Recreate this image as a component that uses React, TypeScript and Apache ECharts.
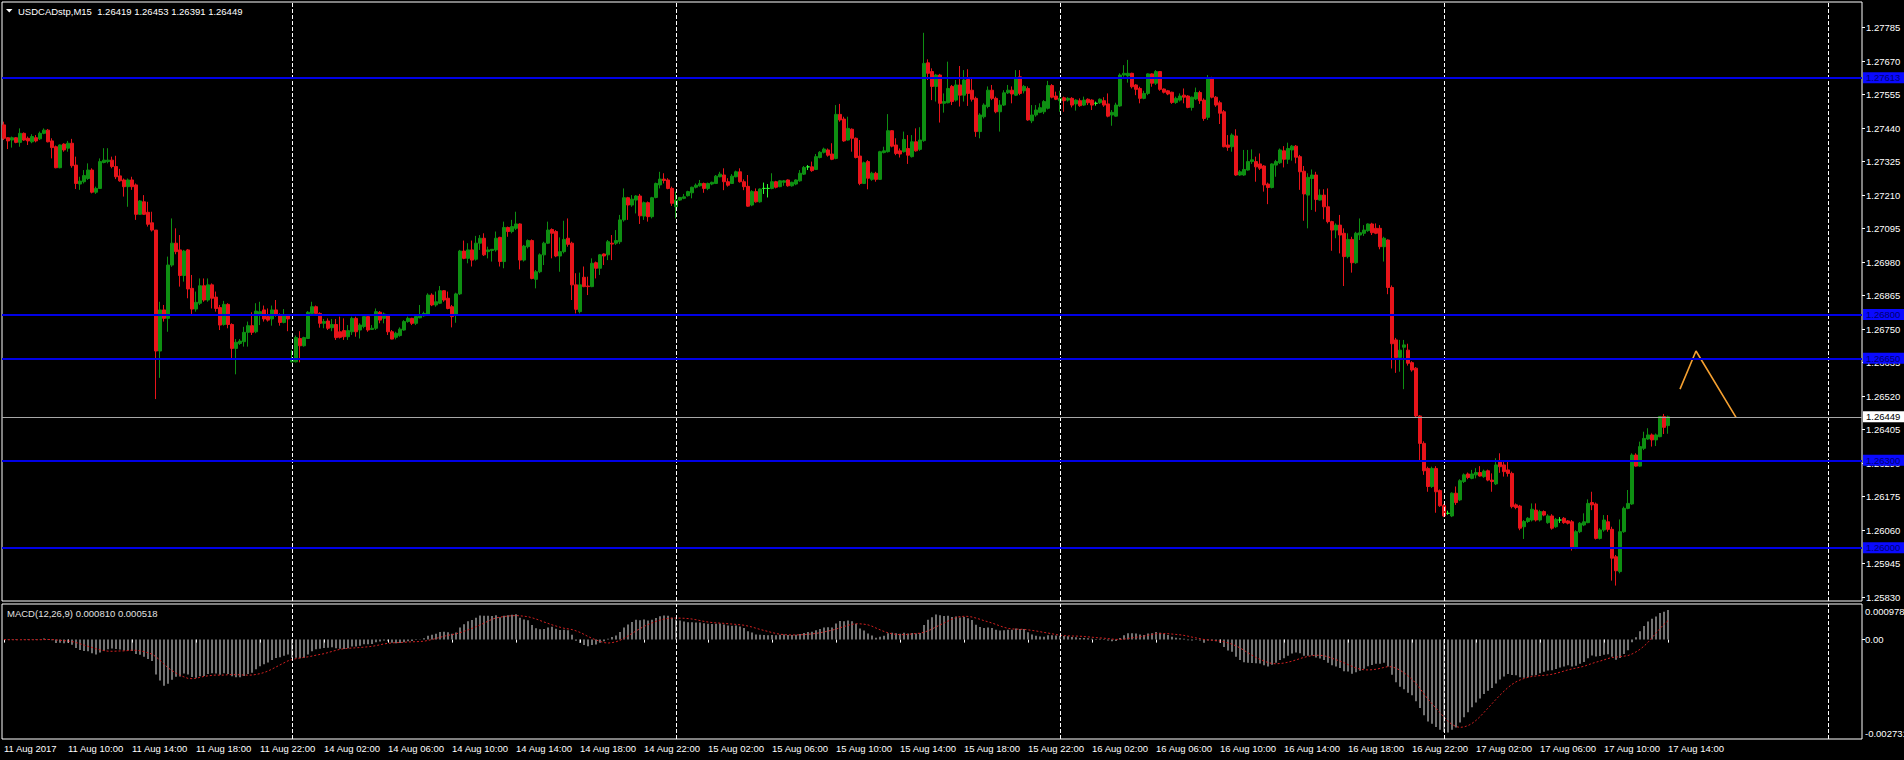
import React, { useEffect, useRef } from 'react';
import * as echarts from 'echarts';

const FONT = '"Liberation Sans", Arial, sans-serif';
const SYMBOL_TITLE = 'USDCADstp,M15  1.26419 1.26453 1.26391 1.26449';
const MACD_TITLE = 'MACD(12,26,9) 0.000810 0.000518';

// trading sessions shown on the time axis (M15 bars)
const sessionDays = ['11 Aug', '14 Aug', '15 Aug', '16 Aug', '17 Aug', '18 Aug'];
const sessionStartHour = [6, 0, 0, 0, 0, 0];
const sessionBars = [72, 96, 96, 96, 96, 9];
const firstLabel = '11 Aug 2017';

// [open, high, low, close]
const ohlc: number[][] = [
  /*0*/ [1.27451,1.27462,1.27399,1.27405],[1.27407,1.27409,1.27368,1.27396],[1.27399,1.27411,1.27373,1.27407],[1.27407,1.27409,1.27388,1.27391],[1.27391,1.27439,1.27376,1.27422],[1.27422,1.27425,1.27396,1.27399],[1.27405,1.27411,1.27382,1.27396],[1.27393,1.27419,1.27388,1.27411],
  /*8*/ [1.27407,1.27416,1.27391,1.27396],[1.27403,1.27428,1.27399,1.27422],[1.27422,1.27439,1.27419,1.27433],[1.27433,1.27437,1.27391,1.27393],[1.27396,1.27405,1.27336,1.27373],[1.27376,1.27380,1.27302,1.27304],[1.27304,1.27384,1.27302,1.27382],[1.27385,1.27388,1.27359,1.27365],
  /*16*/ [1.27371,1.27396,1.27359,1.27388],[1.27388,1.27403,1.27304,1.27311],[1.27313,1.27342,1.27231,1.27250],[1.27248,1.27273,1.27228,1.27258],[1.27256,1.27296,1.27250,1.27277],[1.27267,1.27319,1.27262,1.27296],[1.27296,1.27302,1.27216,1.27220],[1.27220,1.27239,1.27214,1.27233],
  /*24*/ [1.27233,1.27336,1.27231,1.27325],[1.27322,1.27371,1.27319,1.27330],[1.27325,1.27371,1.27319,1.27330],[1.27330,1.27342,1.27302,1.27308],[1.27308,1.27345,1.27265,1.27273],[1.27276,1.27300,1.27256,1.27259],[1.27262,1.27267,1.27205,1.27239],[1.27239,1.27267,1.27170,1.27262],
  /*32*/ [1.27262,1.27273,1.27228,1.27239],[1.27245,1.27250,1.27125,1.27144],[1.27144,1.27193,1.27142,1.27190],[1.27187,1.27210,1.27142,1.27144],[1.27151,1.27187,1.27102,1.27110],[1.27115,1.27153,1.27085,1.27090],[1.27090,1.27090,1.26510,1.26675],[1.26675,1.26844,1.26583,1.26816],
  /*40*/ [1.26816,1.26833,1.26776,1.26787],[1.26787,1.26999,1.26741,1.26970],[1.26970,1.27130,1.26964,1.27045],[1.27045,1.27096,1.27007,1.27016],[1.27022,1.27073,1.26896,1.26934],[1.26934,1.27022,1.26913,1.27018],[1.27022,1.27025,1.26856,1.26888],[1.26890,1.26936,1.26802,1.26819],
  /*48*/ [1.26819,1.26879,1.26810,1.26842],[1.26839,1.26924,1.26833,1.26899],[1.26899,1.26924,1.26844,1.26850],[1.26850,1.26924,1.26844,1.26902],[1.26902,1.26907,1.26821,1.26856],[1.26860,1.26879,1.26810,1.26821],[1.26824,1.26833,1.26747,1.26764],[1.26766,1.26847,1.26762,1.26835],
  /*56*/ [1.26835,1.26839,1.26753,1.26766],[1.26766,1.26770,1.26650,1.26684],[1.26684,1.26716,1.26595,1.26705],[1.26701,1.26716,1.26696,1.26709],[1.26707,1.26758,1.26690,1.26739],[1.26739,1.26776,1.26690,1.26762],[1.26762,1.26808,1.26730,1.26739],[1.26741,1.26839,1.26736,1.26812],
  /*64*/ [1.26802,1.26844,1.26764,1.26810],[1.26816,1.26831,1.26776,1.26785],[1.26793,1.26821,1.26776,1.26781],[1.26785,1.26831,1.26762,1.26816],[1.26816,1.26850,1.26793,1.26799],[1.26799,1.26804,1.26762,1.26773],[1.26773,1.26819,1.26770,1.26799],[1.26799,1.26801,1.26743,1.26785],
  /*72*/ [1.26638,1.26678,1.26636,1.26644],[1.26638,1.26728,1.26636,1.26721],[1.26718,1.26743,1.26636,1.26693],[1.26693,1.26724,1.26690,1.26721],[1.26718,1.26812,1.26716,1.26808],[1.26804,1.26844,1.26801,1.26827],[1.26827,1.26831,1.26799,1.26804],[1.26804,1.26808,1.26755,1.26770],
  /*80*/ [1.26770,1.26785,1.26753,1.26776],[1.26778,1.26787,1.26747,1.26753],[1.26755,1.26785,1.26743,1.26766],[1.26766,1.26785,1.26713,1.26721],[1.26741,1.26793,1.26718,1.26722],[1.26745,1.26787,1.26713,1.26724],[1.26724,1.26764,1.26713,1.26745],[1.26741,1.26793,1.26730,1.26787],
  /*88*/ [1.26787,1.26793,1.26724,1.26741],[1.26747,1.26770,1.26718,1.26764],[1.26759,1.26799,1.26753,1.26793],[1.26793,1.26799,1.26741,1.26747],[1.26749,1.26764,1.26747,1.26753],[1.26753,1.26821,1.26747,1.26810],[1.26808,1.26812,1.26770,1.26781],[1.26787,1.26807,1.26770,1.26802],
  /*96*/ [1.26796,1.26799,1.26730,1.26741],[1.26741,1.26747,1.26715,1.26716],[1.26722,1.26741,1.26715,1.26736],[1.26728,1.26756,1.26724,1.26750],[1.26747,1.26781,1.26745,1.26776],[1.26776,1.26793,1.26772,1.26787],[1.26787,1.26789,1.26764,1.26770],[1.26770,1.26796,1.26764,1.26793],
  /*104*/ [1.26789,1.26833,1.26787,1.26796],[1.26796,1.26810,1.26793,1.26804],[1.26802,1.26873,1.26799,1.26867],[1.26867,1.26873,1.26829,1.26833],[1.26833,1.26879,1.26827,1.26844],[1.26839,1.26898,1.26836,1.26882],[1.26882,1.26884,1.26844,1.26850],[1.26856,1.26879,1.26818,1.26821],
  /*112*/ [1.26827,1.26833,1.26756,1.26793],[1.26799,1.26875,1.26772,1.26871],[1.26871,1.27022,1.26867,1.27018],[1.27018,1.27054,1.26990,1.26993],[1.26993,1.27045,1.26976,1.27022],[1.27022,1.27054,1.26965,1.26987],[1.26990,1.27070,1.26985,1.27045],[1.27045,1.27073,1.27022,1.27062],
  /*120*/ [1.27062,1.27079,1.27001,1.27005],[1.27016,1.27033,1.26993,1.27022],[1.27020,1.27024,1.26982,1.27024],[1.27022,1.27085,1.27016,1.27062],[1.27065,1.27067,1.26965,1.26982],[1.26982,1.27119,1.26959,1.27099],[1.27099,1.27102,1.27067,1.27085],[1.27085,1.27125,1.27079,1.27102],
  /*128*/ [1.27096,1.27153,1.27090,1.27111],[1.27111,1.27113,1.26955,1.26987],[1.26987,1.27039,1.26982,1.27035],[1.27033,1.27058,1.27027,1.27054],[1.27054,1.27058,1.26921,1.26924],[1.26921,1.26953,1.26890,1.26947],[1.26947,1.27010,1.26942,1.27005],[1.27005,1.27050,1.26970,1.27045],
  /*136*/ [1.27045,1.27119,1.27042,1.27090],[1.27092,1.27096,1.26993,1.27079],[1.27085,1.27090,1.26997,1.27001],[1.27001,1.27065,1.26947,1.27016],[1.27016,1.27122,1.27010,1.27058],[1.27062,1.27130,1.27033,1.27041],[1.27045,1.27050,1.26850,1.26902],[1.26902,1.26942,1.26804,1.26818],
  /*144*/ [1.26810,1.26944,1.26804,1.26902],[1.26928,1.26965,1.26894,1.26896],[1.26898,1.26930,1.26867,1.26896],[1.26896,1.26993,1.26894,1.26976],[1.26978,1.26982,1.26924,1.26959],[1.26959,1.27008,1.26936,1.27005],[1.27008,1.27010,1.26970,1.27001],[1.27005,1.27056,1.26987,1.27050],
  /*152*/ [1.27045,1.27073,1.26987,1.27042],[1.27045,1.27090,1.27039,1.27054],[1.27050,1.27142,1.27042,1.27125],[1.27125,1.27233,1.27119,1.27201],[1.27201,1.27204,1.27125,1.27176],[1.27176,1.27210,1.27170,1.27196],[1.27193,1.27210,1.27147,1.27207],[1.27207,1.27214,1.27111,1.27139],
  /*160*/ [1.27138,1.27188,1.27125,1.27184],[1.27184,1.27188,1.27119,1.27136],[1.27136,1.27204,1.27130,1.27201],[1.27202,1.27253,1.27199,1.27250],[1.27245,1.27290,1.27233,1.27265],[1.27265,1.27285,1.27250,1.27260],[1.27262,1.27268,1.27230,1.27233],[1.27233,1.27239,1.27173,1.27182],
  /*168*/ [1.27170,1.27222,1.27130,1.27193],[1.27193,1.27204,1.27190,1.27202],[1.27199,1.27214,1.27196,1.27204],[1.27208,1.27225,1.27205,1.27222],[1.27218,1.27239,1.27199,1.27237],[1.27237,1.27250,1.27233,1.27244],[1.27242,1.27262,1.27239,1.27250],[1.27250,1.27253,1.27218,1.27233],
  /*176*/ [1.27233,1.27253,1.27227,1.27250],[1.27248,1.27256,1.27244,1.27254],[1.27250,1.27279,1.27248,1.27275],[1.27273,1.27290,1.27271,1.27282],[1.27279,1.27302,1.27227,1.27256],[1.27256,1.27268,1.27239,1.27244],[1.27250,1.27282,1.27248,1.27275],[1.27273,1.27294,1.27271,1.27290],
  /*184*/ [1.27290,1.27302,1.27253,1.27256],[1.27256,1.27264,1.27227,1.27239],[1.27240,1.27279,1.27170,1.27172],[1.27176,1.27227,1.27172,1.27222],[1.27222,1.27233,1.27184,1.27187],[1.27187,1.27233,1.27184,1.27231],[1.27233,1.27253,1.27214,1.27233],[1.27233,1.27248,1.27202,1.27233],
  /*192*/ [1.27233,1.27285,1.27230,1.27256],[1.27256,1.27259,1.27233,1.27237],[1.27239,1.27262,1.27237,1.27259],[1.27254,1.27262,1.27242,1.27259],[1.27262,1.27264,1.27239,1.27242],[1.27242,1.27256,1.27239,1.27254],[1.27248,1.27264,1.27244,1.27262],[1.27259,1.27296,1.27256,1.27285],
  /*200*/ [1.27282,1.27310,1.27279,1.27305],[1.27307,1.27313,1.27296,1.27307],[1.27307,1.27325,1.27290,1.27294],[1.27298,1.27351,1.27296,1.27342],[1.27339,1.27361,1.27336,1.27357],[1.27357,1.27373,1.27353,1.27368],[1.27365,1.27370,1.27342,1.27347],[1.27351,1.27388,1.27330,1.27333],
  /*208*/ [1.27336,1.27519,1.27333,1.27487],[1.27487,1.27523,1.27462,1.27468],[1.27471,1.27479,1.27393,1.27396],[1.27399,1.27479,1.27397,1.27439],[1.27436,1.27439,1.27359,1.27405],[1.27405,1.27408,1.27336,1.27339],[1.27344,1.27399,1.27244,1.27250],[1.27250,1.27325,1.27248,1.27321],
  /*216*/ [1.27325,1.27330,1.27230,1.27268],[1.27264,1.27290,1.27259,1.27285],[1.27285,1.27290,1.27256,1.27264],[1.27264,1.27362,1.27262,1.27359],[1.27356,1.27376,1.27353,1.27362],[1.27359,1.27488,1.27356,1.27431],[1.27431,1.27433,1.27374,1.27378],[1.27382,1.27405,1.27347,1.27353],
  /*224*/ [1.27362,1.27370,1.27339,1.27351],[1.27359,1.27428,1.27356,1.27401],[1.27370,1.27416,1.27317,1.27347],[1.27342,1.27416,1.27339,1.27393],[1.27393,1.27439,1.27359,1.27362],[1.27367,1.27443,1.27362,1.27399],[1.27397,1.27767,1.27393,1.27662],[1.27664,1.27676,1.27605,1.27628],
  /*232*/ [1.27634,1.27645,1.27536,1.27583],[1.27583,1.27626,1.27531,1.27622],[1.27622,1.27626,1.27459,1.27525],[1.27525,1.27559,1.27493,1.27531],[1.27527,1.27668,1.27525,1.27576],[1.27583,1.27588,1.27519,1.27531],[1.27536,1.27605,1.27531,1.27588],[1.27588,1.27653,1.27514,1.27553],
  /*240*/ [1.27553,1.27639,1.27531,1.27605],[1.27607,1.27642,1.27516,1.27559],[1.27570,1.27611,1.27531,1.27539],[1.27542,1.27548,1.27410,1.27428],[1.27428,1.27491,1.27405,1.27485],[1.27479,1.27525,1.27473,1.27519],[1.27514,1.27583,1.27508,1.27570],[1.27570,1.27588,1.27536,1.27542],
  /*248*/ [1.27542,1.27548,1.27491,1.27496],[1.27496,1.27536,1.27428,1.27519],[1.27519,1.27570,1.27516,1.27561],[1.27561,1.27588,1.27557,1.27570],[1.27570,1.27583,1.27525,1.27557],[1.27553,1.27639,1.27550,1.27611],[1.27616,1.27639,1.27553,1.27559],[1.27568,1.27588,1.27559,1.27583],
  /*256*/ [1.27576,1.27583,1.27465,1.27468],[1.27465,1.27519,1.27457,1.27485],[1.27485,1.27519,1.27479,1.27502],[1.27494,1.27525,1.27491,1.27510],[1.27496,1.27536,1.27488,1.27531],[1.27508,1.27602,1.27504,1.27586],[1.27586,1.27591,1.27542,1.27546],[1.27550,1.27565,1.27536,1.27539],
  /*264*/ [1.27534,1.27568,1.27496,1.27542],[1.27544,1.27548,1.27496,1.27534],[1.27536,1.27546,1.27531,1.27542],[1.27542,1.27546,1.27511,1.27519],[1.27523,1.27539,1.27500,1.27536],[1.27534,1.27542,1.27513,1.27517],[1.27519,1.27548,1.27516,1.27536],[1.27539,1.27542,1.27519,1.27527],
  /*272*/ [1.27536,1.27539,1.27502,1.27519],[1.27525,1.27531,1.27517,1.27525],[1.27527,1.27542,1.27523,1.27539],[1.27534,1.27546,1.27513,1.27519],[1.27523,1.27559,1.27477,1.27481],[1.27485,1.27502,1.27448,1.27494],[1.27481,1.27527,1.27479,1.27519],[1.27516,1.27628,1.27513,1.27622],
  /*280*/ [1.27622,1.27656,1.27616,1.27628],[1.27619,1.27674,1.27596,1.27628],[1.27628,1.27630,1.27576,1.27582],[1.27588,1.27591,1.27553,1.27573],[1.27576,1.27582,1.27525,1.27542],[1.27542,1.27568,1.27539,1.27559],[1.27559,1.27628,1.27553,1.27626],[1.27626,1.27628,1.27582,1.27594],
  /*288*/ [1.27594,1.27639,1.27588,1.27634],[1.27634,1.27636,1.27568,1.27573],[1.27574,1.27576,1.27559,1.27563],[1.27568,1.27571,1.27553,1.27557],[1.27563,1.27565,1.27523,1.27528],[1.27528,1.27548,1.27523,1.27542],[1.27536,1.27559,1.27531,1.27550],[1.27553,1.27576,1.27525,1.27546],
  /*296*/ [1.27550,1.27553,1.27508,1.27511],[1.27511,1.27548,1.27500,1.27546],[1.27540,1.27579,1.27536,1.27562],[1.27562,1.27568,1.27523,1.27534],[1.27536,1.27542,1.27465,1.27473],[1.27477,1.27622,1.27468,1.27611],[1.27611,1.27616,1.27542,1.27546],[1.27546,1.27550,1.27513,1.27519],
  /*304*/ [1.27527,1.27534,1.27454,1.27491],[1.27496,1.27502,1.27374,1.27376],[1.27382,1.27416,1.27362,1.27374],[1.27376,1.27422,1.27359,1.27416],[1.27413,1.27436,1.27276,1.27279],[1.27279,1.27296,1.27276,1.27290],[1.27279,1.27365,1.27276,1.27298],[1.27296,1.27365,1.27294,1.27325],
  /*312*/ [1.27325,1.27367,1.27317,1.27331],[1.27325,1.27342,1.27256,1.27307],[1.27317,1.27353,1.27296,1.27302],[1.27310,1.27313,1.27222,1.27245],[1.27248,1.27253,1.27179,1.27236],[1.27236,1.27319,1.27233,1.27317],[1.27313,1.27331,1.27273,1.27325],[1.27321,1.27370,1.27317,1.27365],
  /*320*/ [1.27362,1.27378,1.27305,1.27333],[1.27333,1.27390,1.27317,1.27370],[1.27365,1.27382,1.27328,1.27378],[1.27378,1.27382,1.27319,1.27340],[1.27342,1.27348,1.27228,1.27290],[1.27292,1.27310,1.27122,1.27214],[1.27210,1.27285,1.27096,1.27271],[1.27267,1.27298,1.27159,1.27279],
  /*328*/ [1.27279,1.27290,1.27153,1.27195],[1.27193,1.27230,1.27191,1.27210],[1.27210,1.27230,1.27127,1.27170],[1.27170,1.27233,1.27113,1.27119],[1.27119,1.27122,1.27019,1.27090],[1.27090,1.27113,1.27062,1.27107],[1.27107,1.27142,1.27010,1.27073],[1.27079,1.27096,1.26898,1.26999],
  /*336*/ [1.26999,1.27079,1.26993,1.27058],[1.27058,1.27067,1.26944,1.26978],[1.26978,1.27084,1.26974,1.27079],[1.27073,1.27130,1.27056,1.27081],[1.27079,1.27107,1.27070,1.27090],[1.27088,1.27113,1.27084,1.27111],[1.27111,1.27115,1.27073,1.27081],[1.27096,1.27113,1.27076,1.27079],
  /*344*/ [1.27096,1.27107,1.27024,1.27033],[1.27033,1.27067,1.26982,1.27062],[1.27056,1.27058,1.26870,1.26893],[1.26893,1.26900,1.26615,1.26700],[1.26713,1.26720,1.26600,1.26653],[1.26653,1.26713,1.26604,1.26678],[1.26688,1.26713,1.26544,1.26696],[1.26678,1.26700,1.26625,1.26633],
  /*352*/ [1.26635,1.26640,1.26604,1.26610],[1.26616,1.26620,1.26445,1.26452],[1.26452,1.26455,1.26301,1.26358],[1.26358,1.26365,1.26250,1.26264],[1.26272,1.26278,1.26192,1.26210],[1.26210,1.26278,1.26205,1.26272],[1.26272,1.26280,1.26120,1.26192],[1.26196,1.26200,1.26140,1.26144],
  /*360*/ [1.26144,1.26150,1.26105,1.26109],[1.26118,1.26127,1.26113,1.26118],[1.26109,1.26190,1.26105,1.26187],[1.26187,1.26210,1.26147,1.26155],[1.26164,1.26235,1.26160,1.26230],[1.26227,1.26255,1.26222,1.26250],[1.26253,1.26258,1.26235,1.26241],[1.26238,1.26267,1.26235,1.26253],
  /*368*/ [1.26250,1.26273,1.26238,1.26258],[1.26258,1.26280,1.26244,1.26246],[1.26244,1.26268,1.26240,1.26263],[1.26264,1.26268,1.26228,1.26232],[1.26232,1.26255,1.26192,1.26227],[1.26219,1.26307,1.26215,1.26284],[1.26295,1.26324,1.26257,1.26278],[1.26284,1.26295,1.26244,1.26261],
  /*376*/ [1.26267,1.26295,1.26244,1.26255],[1.26255,1.26261,1.26135,1.26141],[1.26147,1.26152,1.26132,1.26138],[1.26143,1.26147,1.26060,1.26067],[1.26072,1.26095,1.26030,1.26090],[1.26090,1.26105,1.26085,1.26101],[1.26095,1.26152,1.26090,1.26132],[1.26129,1.26152,1.26090,1.26095],
  /*384*/ [1.26095,1.26130,1.26090,1.26124],[1.26124,1.26128,1.26108,1.26112],[1.26086,1.26115,1.26082,1.26109],[1.26109,1.26115,1.26062,1.26067],[1.26072,1.26102,1.26068,1.26097],[1.26095,1.26105,1.26085,1.26095],[1.26101,1.26105,1.26082,1.26086],[1.26092,1.26095,1.26080,1.26084],
  /*392*/ [1.26089,1.26095,1.25990,1.25998],[1.25998,1.26060,1.25995,1.26055],[1.26055,1.26088,1.26050,1.26084],[1.26078,1.26118,1.26074,1.26089],[1.26086,1.26166,1.26084,1.26152],[1.26155,1.26192,1.26129,1.26147],[1.26150,1.26155,1.26028,1.26032],[1.26032,1.26067,1.26028,1.26061],
  /*400*/ [1.26061,1.26112,1.26055,1.26095],[1.26089,1.26112,1.26055,1.26063],[1.26063,1.26072,1.25887,1.25964],[1.25969,1.25975,1.25870,1.25921],[1.25918,1.26097,1.25912,1.26055],[1.26055,1.26141,1.26051,1.26135],[1.26135,1.26198,1.26132,1.26152],[1.26150,1.26324,1.26147,1.26318],
  /*408*/ [1.26318,1.26324,1.26278,1.26280],[1.26280,1.26364,1.26278,1.26347],[1.26341,1.26398,1.26335,1.26375],[1.26373,1.26410,1.26370,1.26387],[1.26387,1.26392,1.26347,1.26370],[1.26370,1.26392,1.26349,1.26387],[1.26381,1.26452,1.26379,1.26450],[1.26450,1.26459,1.26390,1.26413],
  /*416*/ [1.26419,1.26453,1.26391,1.26449],
];

const priceTicks = [1.27785, 1.2767, 1.27555, 1.2744, 1.27325, 1.2721, 1.27095, 1.2698, 1.26865, 1.2675, 1.26635, 1.2652, 1.26405, 1.2629, 1.26175, 1.2606, 1.25945, 1.2583];
const priceMin = 1.258171;
const priceMax = 1.278727;
const macdTicks = [0.000978, 0, -0.002731];
const levelLines = [1.27613, 1.268, 1.2665, 1.263, 1.26];
const lastPrice = 1.26449;
const daySeparators = ['14 Aug 00:00', '15 Aug 00:00', '16 Aug 00:00', '17 Aug 00:00', '18 Aug 00:00'];
const zigzagTimes = ['17 Aug 14:45', '17 Aug 15:45', '17 Aug 18:15'];
const zigzagPrices = [1.26544, 1.26675, 1.26447];
const labelEvery = 16;
const lastLabelledBar = 416;

const BULL = '#0e8f12';
const BEAR = '#e8141a';
const DOJI = '#30ff30';
const LEVEL = '#0000e6';

function pad(n: number) {
  return String(n).padStart(2, '0');
}

export default function App() {
  const ref = useRef<HTMLDivElement>(null);

  useEffect(() => {
    document.body.style.margin = '0';
    document.body.style.background = '#000';
    const chart = echarts.init(ref.current!, undefined, { renderer: 'svg' });

    const categories: string[] = [];
    sessionDays.forEach((d, k) => {
      for (let j = 0; j < sessionBars[k]; j++) {
        const m = sessionStartHour[k] * 60 + j * 15;
        categories.push(`${d} ${pad(Math.floor(m / 60))}:${pad(m % 60)}`);
      }
    });

    const closes = ohlc.map((b) => b[3]);
    const ema = (p: number) => {
      const k = 2 / (p + 1);
      let e = closes[0];
      return closes.map((c) => (e = e + k * (c - e)));
    };
    const e12 = ema(12);
    const e26 = ema(26);
    const macd = e12.map((v, i) => v - e26[i]);
    const signal = macd.map((_, i) => {
      const w = macd.slice(Math.max(0, i - 8), i + 1);
      return w.reduce((a, b) => a + b, 0) / w.length;
    });

    const showLabel = (index: number) => index % labelEvery === 0 && index <= lastLabelledBar;

    const sepStyle = { color: '#ffffff', width: 1, type: [4, 2] as any, opacity: 1 };
    const sepLines = daySeparators.map((d) => ({ xAxis: d, lineStyle: sepStyle, label: { show: false } }));

    const boxLabel = (text: string, bg: string, fg: string) => ({
      show: true,
      position: 'end',
      distance: 1,
      formatter: text,
      backgroundColor: bg,
      color: fg,
      padding: [1, 4, 0, 3],
      fontSize: 9.5,
      fontFamily: FONT,
    });

    const hLines: any[] = levelLines.map((v) => ({
      yAxis: v,
      lineStyle: { color: LEVEL, width: 2, type: 'solid' },
      label: boxLabel(v.toFixed(5), '#0a0aff', '#00006e'),
    }));
    hLines.push({
      yAxis: lastPrice,
      lineStyle: { color: '#a8a8a8', width: 1, type: 'solid' },
      label: boxLabel(lastPrice.toFixed(5), '#ffffff', '#000000'),
    });

    const macdRich = {
      t: { padding: [14, 0, 0, 0], fontSize: 9.5, color: '#ffffff', fontFamily: FONT },
      b: { padding: [0, 0, 12, 0], fontSize: 9.5, color: '#ffffff', fontFamily: FONT },
      m: { fontSize: 9.5, color: '#ffffff', fontFamily: FONT },
    };

    const option: any = {
      animation: false,
      backgroundColor: '#000000',
      textStyle: { fontFamily: FONT },
      grid: [
        { left: 2, top: 2, width: 1860, height: 599, show: true, borderColor: '#ffffff', borderWidth: 1, backgroundColor: 'transparent', outerBoundsMode: 'none', containLabel: false },
        { left: 2, top: 604, width: 1860, height: 135, show: true, borderColor: '#ffffff', borderWidth: 1, backgroundColor: 'transparent', outerBoundsMode: 'none', containLabel: false },
      ],
      xAxis: [
        {
          type: 'category', gridIndex: 0, data: categories, boundaryGap: true,
          axisLine: { show: false }, axisTick: { show: false }, axisLabel: { show: false }, splitLine: { show: false },
        },
        {
          type: 'category', gridIndex: 1, data: categories, boundaryGap: true,
          axisLine: { show: false },
          axisTick: { show: true, alignWithLabel: true, interval: (i: number) => showLabel(i), length: 3, lineStyle: { color: '#ffffff' } },
          axisLabel: {
            interval: (i: number) => showLabel(i), align: 'left', color: '#ffffff', fontSize: 9.5, margin: 4, fontFamily: FONT,
            formatter: (v: string, i: number) => (i === 0 ? firstLabel : v),
          },
          splitLine: { show: false },
        },
      ],
      yAxis: [
        {
          type: 'value', gridIndex: 0, position: 'right', min: priceMin, max: priceMax,
          splitLine: { show: false }, axisLine: { show: false },
          axisTick: { show: true, customValues: priceTicks, length: 3, lineStyle: { color: '#ffffff' } },
          axisLabel: { customValues: priceTicks, formatter: (v: number) => v.toFixed(5), color: '#ffffff', fontSize: 9.5, margin: 4, fontFamily: FONT },
        },
        {
          type: 'value', gridIndex: 1, position: 'right', min: macdTicks[2], max: macdTicks[0],
          splitLine: { show: false }, axisLine: { show: false },
          axisTick: { show: true, customValues: [0], length: 3, lineStyle: { color: '#ffffff' } },
          axisLabel: {
            customValues: macdTicks, color: '#ffffff', fontSize: 9.5, margin: 3, fontFamily: FONT,
            rich: macdRich,
            formatter: (v: number) =>
              v === macdTicks[0] ? `{t|${v.toFixed(6)}}` : v === macdTicks[2] ? `{b|${v.toFixed(6)}}` : '{m|0.00}',
          },
        },
      ],
      series: [
        {
          type: 'candlestick', xAxisIndex: 0, yAxisIndex: 0, barWidth: 3,
          data: ohlc.map((b) => [b[0], b[3], b[2], b[1]]),
          itemStyle: { color: BULL, color0: BEAR, borderColor: BULL, borderColor0: BEAR, borderColorDoji: DOJI, borderWidth: 1 },
          markLine: { silent: true, symbol: 'none', animation: false, data: sepLines },
        },
        {
          type: 'line', xAxisIndex: 0, yAxisIndex: 0, symbol: 'none',
          data: zigzagTimes.map((t, i) => [t, zigzagPrices[i]]),
          lineStyle: { color: '#f5a030', width: 1.6 },
          markLine: { silent: true, symbol: 'none', animation: false, precision: 5, data: hLines },
        },
        {
          type: 'bar', xAxisIndex: 1, yAxisIndex: 1, barWidth: 1, data: macd,
          itemStyle: { color: '#e6e6e6' },
          markLine: { silent: true, symbol: 'none', animation: false, data: sepLines },
        },
        {
          type: 'line', xAxisIndex: 1, yAxisIndex: 1, symbol: 'none', data: signal,
          lineStyle: { color: '#d02020', width: 1, type: [2, 2] },
        },
      ],
      graphic: [
        { type: 'polygon', shape: { points: [[6, 9], [12.5, 9], [9.25, 12.5]] }, style: { fill: '#ffffff' } },
        { type: 'text', x: 18, y: 11, style: { text: SYMBOL_TITLE, fill: '#ffffff', fontSize: 9.5, fontFamily: FONT, verticalAlign: 'middle' } },
        { type: 'text', x: 7, y: 613, style: { text: MACD_TITLE, fill: '#e0e0e0', fontSize: 9.5, fontFamily: FONT, verticalAlign: 'middle' } },
      ],
    };

    chart.setOption(option);
    return () => chart.dispose();
  }, []);

  return <div ref={ref} style={{ position: 'absolute', left: 0, top: 0, width: 1904, height: 760, background: '#000' }} />;
}
